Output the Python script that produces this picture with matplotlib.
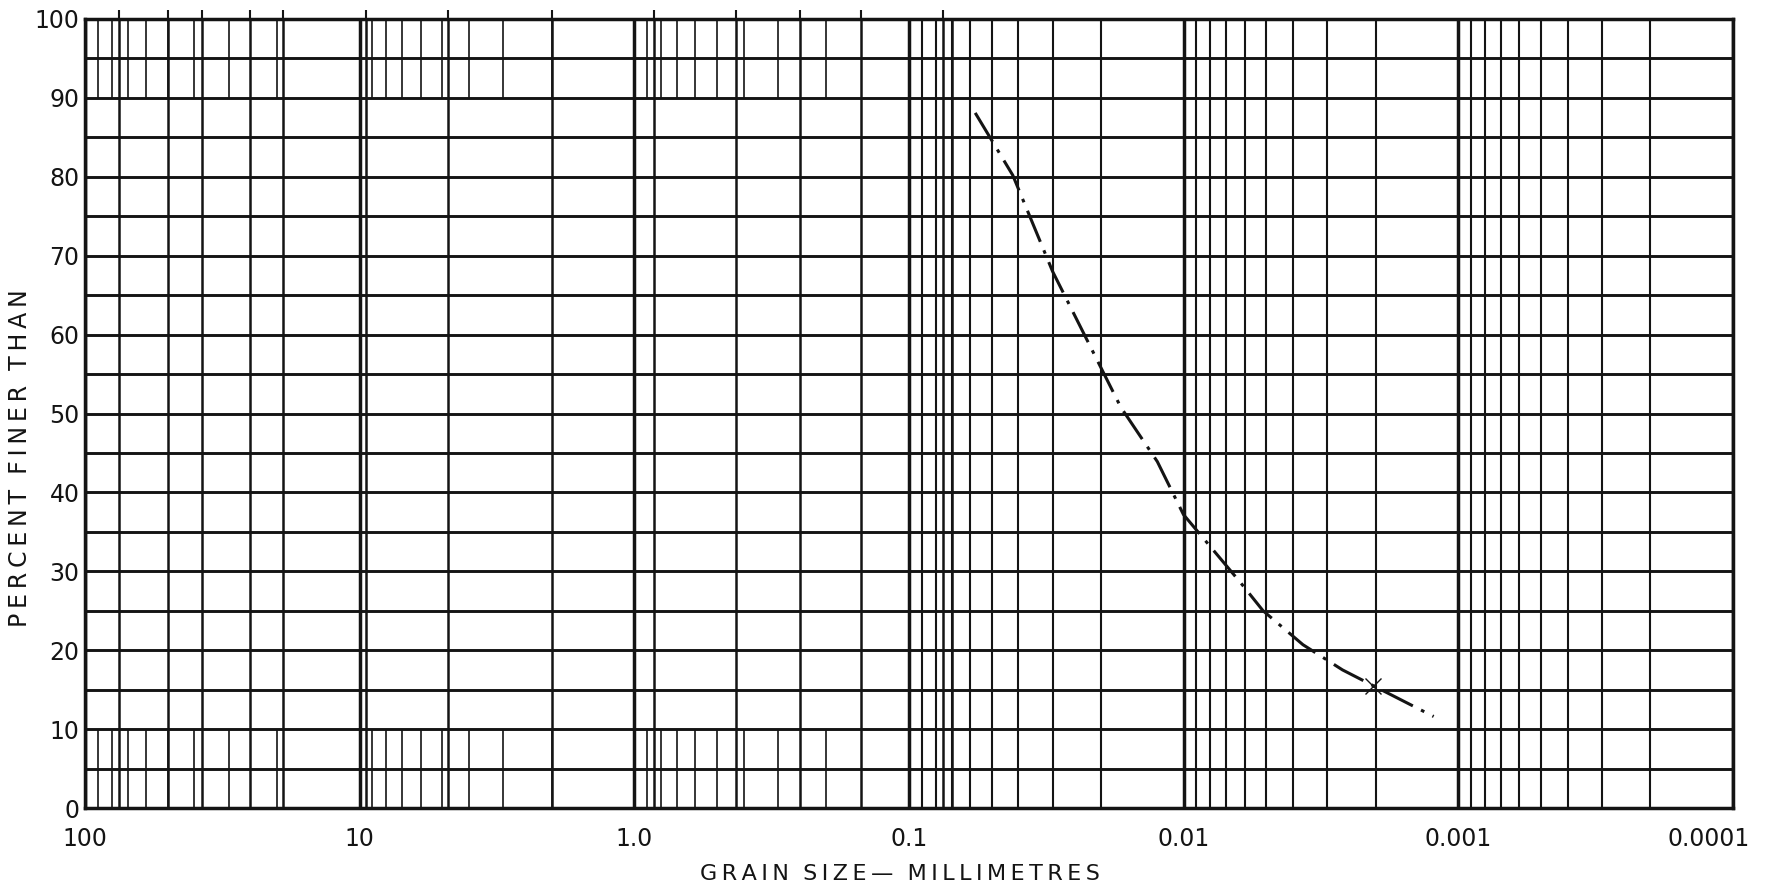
import numpy as np
import matplotlib.pyplot as plt
from matplotlib.transforms import ScaledTranslation

# grain size curve read from the sheet (mm, percent finer)
grain_mm = [0.0574, 0.0419, 0.0300, 0.01694, 0.01247, 0.01002,
            0.00622, 0.00514, 0.00368, 0.00264, 0.00204, 0.00123]
pct_finer = [88.1, 80.2, 68.0, 50.8, 43.9, 37.2,
             28.6, 25.0, 20.7, 17.5, 15.5, 11.6]
mark_mm, mark_pct = 0.00204, 15.5

# printed graph paper rulings
decades = [100, 10, 1.0, 0.1, 0.01, 0.001, 0.0001]
sieve_mm = [75, 50, 37.5, 25, 19, 9.5, 4.75, 2.0, 0.85, 0.425, 0.25, 0.15, 0.075, 0.07]
fine_decades = [0.01, 0.001, 0.0001]
xtick_labels = ['100', '10', '1.0', '0.1', '0.01', '0.001', '0.0001']
ytick_vals = list(range(0, 101, 10))

# sieve names printed above the sheet (mostly cut off by the scan edge)
sieve_names = ['3', '2', '1½', '1', '¾', '⅜', '#4', '#10', '#20', '#40', '#60', '#100', '#200']
sieve_name_mm = [79, 64, 55, 40.8, 32.3, 17.5, 11.8, 2.21, 0.97, 0.518, 0.305, 0.202, 0.0785]
sieve_tick_mm = [75, 50, 37.5, 25, 19, 9.5, 4.75, 2.0, 0.85, 0.425, 0.25, 0.15, 0.075]

ink = '#141414'
plt.rcParams['font.family'] = ['DejaVu Sans']


def spaced(s):
    # loose lettering like the stencil on the sheet
    return '  '.join('\u2009'.join(w) for w in s.split(' '))


fig = plt.figure(figsize=(17.75, 8.9), dpi=100)
ax = fig.add_axes([85 / 1775, 82 / 890, (1733 - 85) / 1775, (808 - 19) / 890])
ax.set_xscale('log')
ax.set_xlim(100, 0.0001)
ax.set_ylim(0, 100)

# minor log rulings 2..9 of every decade, only in the top and bottom bands
minors = [m * d / 10 for d in decades[:-1] for m in range(2, 10)]
ax.vlines(minors, 0, 10, color=ink, lw=1.2, zorder=1)
ax.vlines(minors, 90, 100, color=ink, lw=1.2, zorder=1)
fine = [m * d for d in fine_decades for m in range(2, 10)]
ax.vlines(fine, 0, 100, color=ink, lw=1.5, zorder=1)
ax.vlines(sieve_mm, 0, 100, color=ink, lw=1.8, zorder=1)
ax.vlines(decades, 0, 100, color=ink, lw=2.5, zorder=1)
ax.hlines(np.arange(0, 101, 5), 0.0001, 100, color=ink, lw=2.1, zorder=1)
ax.vlines(sieve_tick_mm, 100, 101.1, color=ink, lw=1.5, zorder=1, clip_on=False)

for s in ax.spines.values():
    s.set_linewidth(2.5)
    s.set_color(ink)

ax.plot(grain_mm, pct_finer, color=ink, lw=2.2,
        linestyle=(0, (11, 3, 1.2, 3)), zorder=3)
ax.plot([mark_mm], [mark_pct], marker='x', ms=12, mew=1.0, color=ink, zorder=3)

ax.set_xticks(decades)
ax.set_xticklabels(xtick_labels)
ax.set_yticks(ytick_vals)
ax.set_yticklabels([str(v) for v in ytick_vals])
ax.xaxis.set_minor_locator(plt.NullLocator())
ax.tick_params(axis='both', length=0, labelsize=17, colors=ink)
ax.tick_params(axis='x', pad=14)
ax.tick_params(axis='y', pad=4)
last = ax.get_xticklabels()[-1]
last.set_transform(last.get_transform() + ScaledTranslation(-0.24, 0, fig.dpi_scale_trans))

fig.text(20 / 1775, 1 - 458 / 890, spaced('PERCENT FINER THAN'), rotation=90,
         ha='center', va='center', fontsize=17, color=ink)
fig.text(900 / 1775, 1 - 874 / 890, spaced('GRAIN SIZE— MILLIMETRES'),
         ha='center', va='center', fontsize=16, color=ink)

for name, mm in zip(sieve_names, sieve_name_mm):
    ax.annotate(name, (mm, 100), xycoords=('data', 'axes fraction'),
                xytext=(0, 9.5), textcoords='offset points',
                ha='center', va='baseline', fontsize=14, color=ink,
                annotation_clip=False)

fig.savefig('out.png', dpi=100, facecolor='white')
